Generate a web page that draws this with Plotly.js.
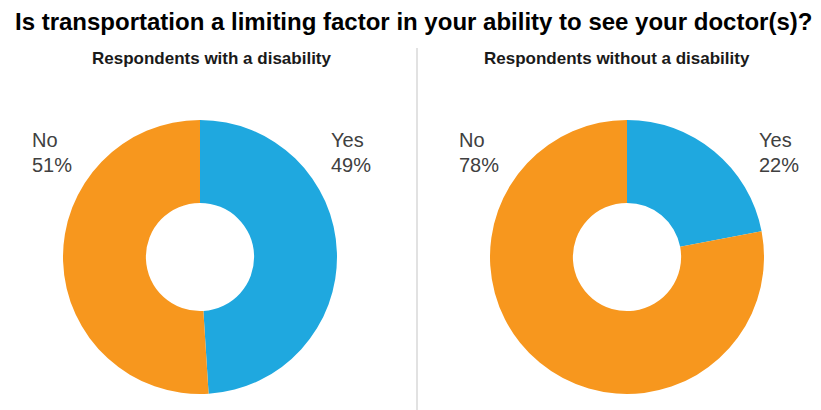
<!DOCTYPE html>
<html>
<head>
<meta charset="utf-8">
<script src="https://cdn.plot.ly/plotly-3.0.1.min.js"></script>
<style>html,body{margin:0;padding:0;background:#fff;}#chart{width:821px;height:410px;}</style>
</head>
<body>
<div id="chart"></div>
<script>
const chartTitle = "Is transportation a limiting factor in your ability to see your doctor(s)?";
const groupTitles = ["Respondents with a disability", "Respondents without a disability"];
const categories = ["Yes", "No"];
const withDisability = [49, 51];
const withoutDisability = [22, 78];
const colors = ["#1fa8df", "#f7971e"];

const domains = [
  {x: [63/821, 337/821], y: [16/410, 290/410]},
  {x: [490/821, 764/821], y: [16/410, 290/410]}
];
const series = [withDisability, withoutDisability];

const data = series.map((vals, i) => ({
  type: "pie",
  values: vals,
  labels: categories,
  hole: 0.395,
  sort: false,
  direction: "clockwise",
  rotation: 0,
  textinfo: "none",
  hoverinfo: "label+percent",
  marker: {colors: colors, line: {width: 0}},
  domain: domains[i],
  showlegend: false
}));

const labelFont = {family: "Liberation Sans, Arial, sans-serif", size: 20, color: "#404040"};
// label x positions (paper px): [No, Yes] for each chart
const labelX = [[30, 329], [457, 757]];
const annotations = [];
series.forEach((vals, i) => {
  const total = vals.reduce((a, b) => a + b, 0);
  categories.forEach((c, j) => {
    const xp = c === "Yes" ? labelX[i][1] : labelX[i][0];
    annotations.push({xref: "paper", yref: "paper", x: xp / 821, y: 1 - 139.5 / 410, xanchor: "left", yanchor: "middle",
      text: c, showarrow: false, font: labelFont});
    annotations.push({xref: "paper", yref: "paper", x: xp / 821, y: 1 - 165 / 410, xanchor: "left", yanchor: "middle",
      text: Math.round(vals[j] / total * 100) + "%", showarrow: false, font: labelFont});
  });
});
annotations.push({xref: "paper", yref: "paper", x: 413.5 / 821, y: 1 - 21 / 410, xanchor: "center", yanchor: "middle",
  text: "<b>" + chartTitle + "</b>", showarrow: false, font: {family: "Liberation Sans, Arial, sans-serif", size: 24, color: "#000"}});
[[212, groupTitles[0]], [617, groupTitles[1]]].forEach(([x, t]) => {
  annotations.push({xref: "paper", yref: "paper", x: x / 821, y: 1 - 58.5 / 410, xanchor: "center", yanchor: "middle",
    text: "<b>" + t + "</b>", showarrow: false, font: {family: "Liberation Sans, Arial, sans-serif", size: 17, color: "#1a1a1a"}});
});

const layout = {
  width: 821, height: 410,
  margin: {l: 0, r: 0, t: 0, b: 0},
  paper_bgcolor: "#fff",
  annotations: annotations,
  shapes: [{type: "line", xref: "paper", yref: "paper", x0: 417/821, x1: 417/821, y0: 0, y1: 1 - 48/410,
    line: {color: "#d9d9d9", width: 1.5}}]
};
Plotly.newPlot("chart", data, layout, {displayModeBar: false, staticPlot: true});
</script>
</body>
</html>
